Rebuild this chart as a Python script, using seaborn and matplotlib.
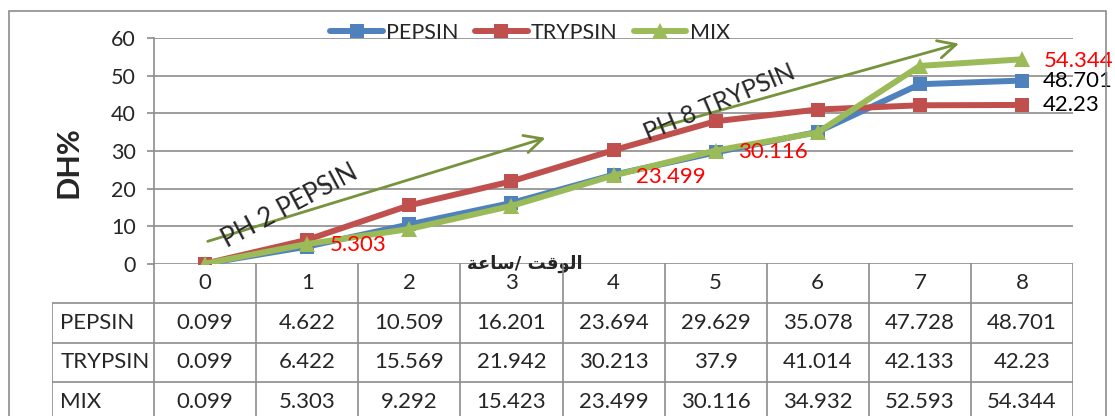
import pandas as pd
import matplotlib
matplotlib.use("Agg")
import matplotlib.pyplot as plt
from matplotlib.patches import Rectangle
import seaborn as sns

hours = [0, 1, 2, 3, 4, 5, 6, 7, 8]
pepsin = [0.099, 4.622, 10.509, 16.201, 23.694, 29.629, 35.078, 47.728, 48.701]
trypsin = [0.099, 6.422, 15.569, 21.942, 30.213, 37.9, 41.014, 42.133, 42.23]
mix = [0.099, 5.303, 9.292, 15.423, 23.499, 30.116, 34.932, 52.593, 54.344]
series_names = ["PEPSIN", "TRYPSIN", "MIX"]
y_ticks = [0, 10, 20, 30, 40, 50, 60]

# arabic x label "الوقت /ساعة", pre-shaped into presentation forms, visual order
x_label = "\uFE94\uFECB\uFE8E\uFEB3/ \uFE96\uFED7\uFEEE\uFEDF\uFE8D"

df = pd.DataFrame({"hour": hours * 3,
                   "dh": pepsin + trypsin + mix,
                   "enzyme": [n for n in series_names for _ in hours]})

sns.set_style("white")
plt.rcParams["font.family"] = ["Lato", "DejaVu Sans"]

W, H = 1115, 416
fig = plt.figure(figsize=(W / 100, H / 100), dpi=100)
ax = fig.add_axes([154 / W, 1 - 264 / H, (1073 - 154) / W, (264 - 38) / H])

colors = {"PEPSIN": "#4F81BD", "TRYPSIN": "#C0504D", "MIX": "#9BBB59"}
markers = {"PEPSIN": "s", "TRYPSIN": "s", "MIX": "^"}
msize = {"PEPSIN": 9.5, "TRYPSIN": 9.5, "MIX": 11}

for name in series_names:
    sub = df[df["enzyme"] == name]
    sns.lineplot(data=sub, x="hour", y="dh", ax=ax, color=colors[name],
                 marker=markers[name], markersize=msize[name], markeredgewidth=0,
                 linewidth=4.3, label=name, zorder=3)

ax.set_xlim(-0.5, 8.5)
ax.set_ylim(0, 60)
ax.set_yticks(y_ticks)
ax.set_xticks([])
ax.set_xlabel("")
ax.set_ylabel("")
ax.grid(axis="y", color="#8c8c8c", linewidth=1.2)
for s in ["top", "right", "bottom"]:
    ax.spines[s].set_visible(False)
ax.spines["left"].set_color("#8c8c8c")
ax.spines["left"].set_linewidth(1.2)
ax.tick_params(axis="y", length=5, width=1.2, color="#8c8c8c", labelsize=15.5,
               left=True, pad=8)
ax.patch.set_alpha(0)

# legend at the top
handles, labels = ax.get_legend_handles_labels()
ax.get_legend().remove()
fig.legend(handles, labels, loc="center", bbox_to_anchor=(530 / W, 1 - 33 / H),
           ncol=3, frameon=False, fontsize=15.5, handlelength=2.45,
           handletextpad=0.15, columnspacing=0.75)

# data labels
red_labels = [(1, 5.303), (4, 23.499), (5, 30.116), (8, 54.344)]
black_labels = [(8, 48.701), (8, 42.23)]
for x, y in red_labels:
    ax.annotate(f"{y:g}", (x, y), xytext=(16, -1), textcoords="offset points",
                color="red", fontsize=16, ha="left", va="center", zorder=5)
for x, y in black_labels:
    ax.annotate(f"{y:g}", (x, y), xytext=(15, 0), textcoords="offset points",
                color="black", fontsize=16, ha="left", va="center", zorder=5)

# annotation arrows and texts
arrow_col = "#77933C"
ax.annotate("", xy=(3.36, 33.7), xytext=(0.0, 5.8),
            arrowprops=dict(arrowstyle="->", color=arrow_col, lw=2, mutation_scale=32),
            zorder=4)
ax.annotate("", xy=(7.41, 58.7), xytext=(4.36, 35.6),
            arrowprops=dict(arrowstyle="->", color=arrow_col, lw=2, mutation_scale=32),
            annotation_clip=False, zorder=4)
ax.text(0.83, 15.3, "PH 2 PEPSIN", rotation=28, fontsize=18.5, ha="center",
        va="center", rotation_mode="anchor", zorder=4)
ax.text(5.04, 43.0, "PH 8 TRYPSIN", rotation=23, fontsize=18, ha="center",
        va="center", rotation_mode="anchor", zorder=4)
ax.text(3.13, 0.1, x_label, fontsize=13, fontweight="bold", ha="center",
        va="center", family=["DejaVu Sans"], zorder=4)

# y axis title
fig.text(68 / W, 1 - 162 / H, "DH%", rotation=90, fontsize=22, fontweight="bold",
         ha="center", va="center")

# data table below the plot
tab = fig.add_axes([52 / W, 1 - 422 / H, (1073 - 52) / W, 159 / H])
tab.set_xlim(-1.5, 8.5)
tab.set_ylim(4, 0)
tab.axis("off")
grid_kw = dict(color="#8c8c8c", linewidth=1.2, solid_capstyle="butt")
for r in [1, 2, 3, 4]:
    tab.plot([-1.5, 8.5], [r, r], **grid_kw)
for c in range(10):
    tab.plot([c - 0.5, c - 0.5], [0, 4], **grid_kw)
tab.plot([-1.5, -1.5], [1, 4], **grid_kw)
for h in hours:
    tab.text(h, 0.5, str(h), ha="center", va="center", fontsize=16)
for r, (name, vals) in enumerate(zip(series_names, [pepsin, trypsin, mix]), start=1):
    tab.text(-1.42, r + 0.5, name, ha="left", va="center", fontsize=16)
    for h, v in zip(hours, vals):
        tab.text(h, r + 0.5, f"{v:g}", ha="center", va="center", fontsize=16)

# outer chart border
fig.add_artist(Rectangle((9 / W, -0.1), (1106 - 9) / W, 1.1 - 11 / H,
                         transform=fig.transFigure, fill=False,
                         edgecolor="#8c8c8c", linewidth=1.2))

fig.savefig("out.png", dpi=100)
